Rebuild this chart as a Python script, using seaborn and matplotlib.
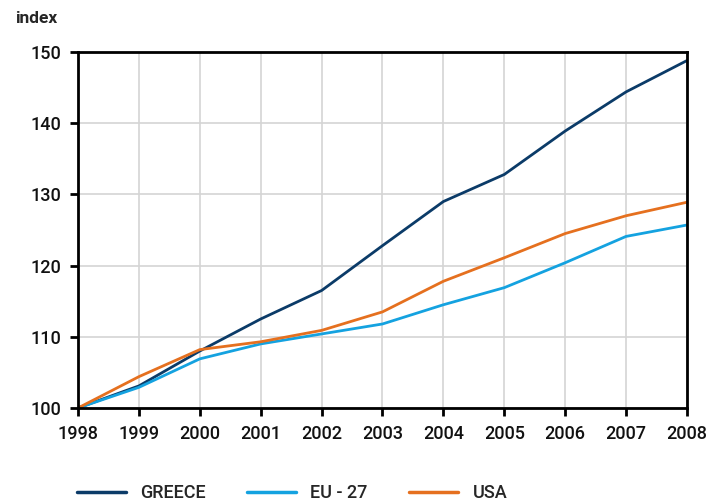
import pandas as pd
import seaborn as sns
import matplotlib.pyplot as plt

years = list(range(1998, 2009))
greece = [100, 103.1, 108.0, 112.5, 116.5, 122.8, 129.0, 132.8, 138.9, 144.4, 148.8]
eu27 = [100, 102.9, 106.9, 109.0, 110.4, 111.8, 114.5, 116.9, 120.4, 124.1, 125.7]
usa = [100, 104.4, 108.2, 109.3, 110.9, 113.5, 117.8, 121.1, 124.5, 127.0, 128.9]
series_names = ["GREECE", "EU - 27", "USA"]
colors = ["#0b3b68", "#14a2e0", "#e5701f"]

df = pd.DataFrame({"year": years * 3,
                   "value": greece + eu27 + usa,
                   "series": [s for s in series_names for _ in years]})

sns.set_style("white")
plt.rcParams["font.family"] = ["Roboto", "DejaVu Sans"]
plt.rcParams["font.weight"] = "medium"

fig = plt.figure(figsize=(7.21, 5.04), dpi=100)
ax = fig.add_axes([0.1082, 0.1905, 0.8446, 0.7063])

sns.lineplot(data=df, x="year", y="value", hue="series", hue_order=series_names,
             palette=colors, linewidth=2, ax=ax, legend=False)

ax.set_xlim(1998, 2008)
ax.set_ylim(100, 150)
ax.set_xticks(years)
ax.set_yticks(range(100, 151, 10))
ax.grid(True, color="#d4d4d4", linewidth=1.2)
ax.set_axisbelow(True)
for sp in ax.spines.values():
    sp.set_color("black")
    sp.set_linewidth(2)
ax.tick_params(axis="both", direction="out", length=6, width=2, color="black",
               labelsize=13, labelcolor="#111111", bottom=True, left=True, pad=6)
ax.set_xlabel("")
ax.set_ylabel("")

fig.text(0.021, 0.964, "index", fontsize=12.5, fontweight="bold", va="center", ha="left")

handles = [plt.Line2D([], [], color=c, linewidth=2.5) for c in colors]
fig.legend(handles, series_names, loc="center", bbox_to_anchor=(0.405, 0.022),
           ncol=3, frameon=False, fontsize=13, handlelength=2.7,
           handletextpad=0.8, columnspacing=2.3, borderpad=0.2)

fig.savefig("out.png", dpi=100)
